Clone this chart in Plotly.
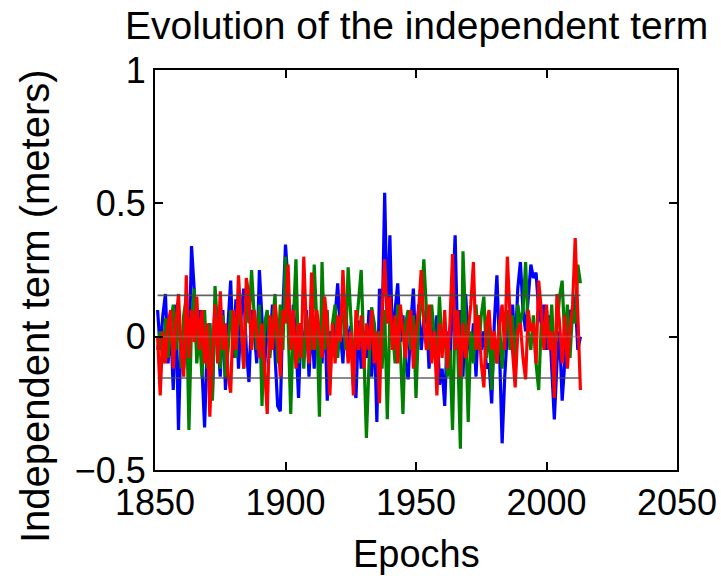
import plotly.graph_objects as go

years = list(range(1851, 2014))

blue = [0.10, -0.05, 0.08, 0.16, -0.10, 0.05, -0.20, 0.12, -0.35, 0.02,
        -0.12, 0.06, -0.10, 0.34, 0.18, -0.05, 0.10, -0.15, -0.34, -0.02,
        0.05, -0.22, 0.12, 0.00, -0.15, 0.10, -0.20, 0.05, 0.21, -0.08,
        0.14, -0.12, 0.08, 0.18, -0.05, -0.17, 0.10, 0.02, -0.10, 0.25,
        0.04, -0.12, 0.08, -0.05, 0.12, -0.10, -0.26, -0.28, 0.10, 0.345,
        0.20, -0.05, 0.12, -0.02, -0.23, 0.05, -0.08, 0.10, -0.15, 0.06,
        -0.12, 0.08, 0.02, -0.10, 0.12, -0.24, 0.02, -0.05, 0.08, 0.20,
        0.02, -0.10, 0.12, -0.05, 0.04, -0.18, -0.23, 0.06, -0.12, 0.02,
        -0.08, 0.10, -0.15, 0.05, -0.32, 0.18, 0.02, 0.54, 0.05, 0.38,
        -0.05, 0.10, 0.20, -0.02, 0.08, -0.10, -0.16, 0.05, 0.18, -0.08,
        0.12, -0.05, 0.06, 0.10, -0.12, 0.05, -0.02, 0.08, -0.18, -0.12,
        -0.26, 0.02, -0.10, 0.12, 0.38, -0.05, 0.10, -0.15, 0.16, 0.00,
        -0.08, 0.05, -0.15, 0.08, -0.05, 0.02, -0.12, -0.10, -0.25, 0.05,
        0.23, -0.05, -0.40, -0.15, 0.02, 0.05, 0.12, -0.05, 0.18, 0.28,
        0.10, 0.02, 0.15, 0.27, 0.22, 0.24, 0.10, 0.05, 0.12, -0.05,
        0.08, -0.12, -0.31, -0.10, 0.02, -0.24, -0.08, 0.05, 0.10, 0.07,
        0.15, -0.05, 0.00]

green = [-0.05, 0.02, -0.10, 0.07, -0.08, 0.05, 0.12, -0.05, 0.10, -0.12,
         0.08, 0.15, -0.35, 0.05, 0.18, -0.10, 0.02, -0.15, 0.10, -0.12,
         0.05, -0.24, 0.19, 0.02, -0.12, 0.08, -0.15, -0.05, 0.10, 0.02,
         -0.08, 0.12, 0.05, -0.12, 0.15, 0.05, 0.25, 0.08, -0.05, 0.12,
         -0.26, 0.05, 0.10, -0.08, 0.05, 0.16, -0.10, 0.12, -0.05, 0.30,
         0.05, -0.29, 0.05, 0.29, -0.10, 0.05, -0.12, 0.08, 0.02, -0.05,
         0.27, 0.05, -0.30, 0.28, -0.05, 0.10, -0.18, 0.05, 0.12, -0.08,
         0.05, 0.10, -0.05, 0.26, 0.08, -0.10, 0.02, 0.12, 0.25, -0.05,
         -0.38, -0.10, 0.11, 0.05, -0.05, 0.02, -0.12, 0.10, -0.31, 0.08,
         0.02, -0.10, 0.12, -0.05, -0.29, 0.05, 0.10, -0.05, 0.08, -0.23,
         0.05, 0.12, 0.29, 0.10, -0.05, 0.12, 0.02, -0.10, 0.15, -0.05,
         0.02, -0.15, -0.05, -0.35, 0.10, -0.05, -0.42, 0.32, 0.05, -0.32,
         0.02, -0.10, 0.12, -0.05, 0.08, 0.15, -0.08, 0.05, -0.20, 0.02,
         -0.10, 0.05, -0.12, 0.02, 0.10, -0.05, 0.08, -0.15, 0.12, 0.05,
         0.10, 0.28, 0.02, -0.05, 0.08, -0.10, -0.20, 0.05, -0.02, 0.10,
         -0.05, 0.12, -0.08, 0.02, 0.15, 0.21, -0.02, 0.12, -0.08, 0.10,
         0.05, 0.27, 0.20]

red = [0.00, -0.22, 0.02, -0.10, 0.05, 0.10, -0.12, 0.05, 0.16, -0.05,
       -0.15, 0.23, -0.08, 0.10, -0.02, 0.15, -0.05, 0.10, -0.10, 0.05,
       -0.30, -0.05, 0.12, -0.10, 0.17, -0.05, 0.05, -0.15, -0.21, 0.10,
       -0.05, 0.23, 0.05, -0.12, 0.22, 0.15, -0.05, 0.10, 0.02, -0.08,
       0.05, -0.10, -0.29, 0.08, -0.05, 0.12, 0.02, -0.15, 0.10, 0.05,
       0.27, -0.05, 0.10, -0.12, 0.05, -0.08, 0.30, 0.02, -0.10, 0.24,
       -0.05, 0.10, 0.02, -0.08, 0.15, 0.05, -0.22, 0.05, -0.10, 0.08,
       -0.02, 0.25, 0.05, -0.10, 0.02, -0.22, 0.10, -0.05, 0.08, -0.12,
       0.05, -0.05, 0.10, -0.10, 0.02, -0.25, 0.10, 0.29, 0.05, 0.15,
       -0.05, 0.08, -0.10, 0.12, 0.02, -0.08, 0.05, 0.10, -0.12, 0.02,
       0.10, 0.25, 0.05, -0.05, 0.12, -0.10, 0.02, -0.22, 0.05, -0.08,
       0.10, -0.12, 0.05, 0.31, -0.05, 0.10, -0.15, 0.05, -0.08, 0.02,
       0.12, 0.28, -0.05, 0.08, -0.10, -0.19, 0.05, 0.10, -0.05, 0.02,
       -0.10, 0.05, 0.12, -0.05, 0.30, 0.08, -0.05, -0.19, 0.02, 0.05,
       -0.08, -0.16, 0.10, 0.02, 0.05, -0.10, 0.21, 0.10, -0.05, 0.12,
       -0.05, 0.02, -0.23, 0.16, 0.05, -0.10, 0.08, -0.12, 0.02, 0.12,
       0.37, 0.10, -0.20]

band = 0.155
x_ticks = [1850, 1900, 1950, 2000, 2050]
y_ticks = [-0.5, 0, 0.5, 1]
y_tick_text = ["\u22120.5", "0", "0.5", "1"]

FONT = "Liberation Sans, Arial, Helvetica, sans-serif"

fig = go.Figure()
line_x = [years[0], years[-1]]
for series, color in [(blue, "rgb(0,0,255)"), (green, "rgb(0,128,0)"), (red, "rgb(255,0,0)")]:
    fig.add_trace(go.Scatter(x=years, y=series, mode="lines",
                             line=dict(color=color, width=3.2), showlegend=False))
for level, col in [(band, "rgba(70,70,70,0.85)"), (-band, "rgba(70,70,70,0.85)"), (0, "rgba(190,110,110,0.5)")]:
    fig.add_trace(go.Scatter(x=line_x, y=[level, level], mode="lines",
                             line=dict(color=col, width=1.6), showlegend=False))

axis_common = dict(showline=True, linecolor="black", linewidth=2, mirror="ticks",
                   ticks="inside", ticklen=8, tickwidth=1.5, tickcolor="black",
                   showgrid=False, zeroline=False, automargin=False,
                   tickfont=dict(family=FONT, size=36, color="black"))

fig.update_layout(
    width=721, height=576,
    margin=dict(l=155, r=44, t=70, b=106),
    paper_bgcolor="white", plot_bgcolor="white",
    xaxis=dict(range=[1850, 2050], tickvals=x_ticks, ticktext=[str(t) for t in x_ticks], **axis_common),
    yaxis=dict(range=[-0.5, 1], tickvals=y_ticks, ticktext=y_tick_text, **axis_common),
    annotations=[
        dict(text="Evolution of the independent term", xref="paper", yref="paper",
             x=0.5, y=1, yshift=45, showarrow=False, xanchor="center", yanchor="middle",
             font=dict(family=FONT, size=39, color="black")),
        dict(text="Epochs", xref="paper", yref="paper", x=0.5, y=0, yshift=-84,
             showarrow=False, xanchor="center", yanchor="middle",
             font=dict(family=FONT, size=38, color="black")),
        dict(text="Independent term (meters)", xref="paper", yref="paper", x=0, xshift=-120,
             y=0.5, yshift=-36, textangle=-90, showarrow=False, xanchor="center", yanchor="middle",
             font=dict(family=FONT, size=40, color="black")),
    ],
)

fig.write_html("out.html")
